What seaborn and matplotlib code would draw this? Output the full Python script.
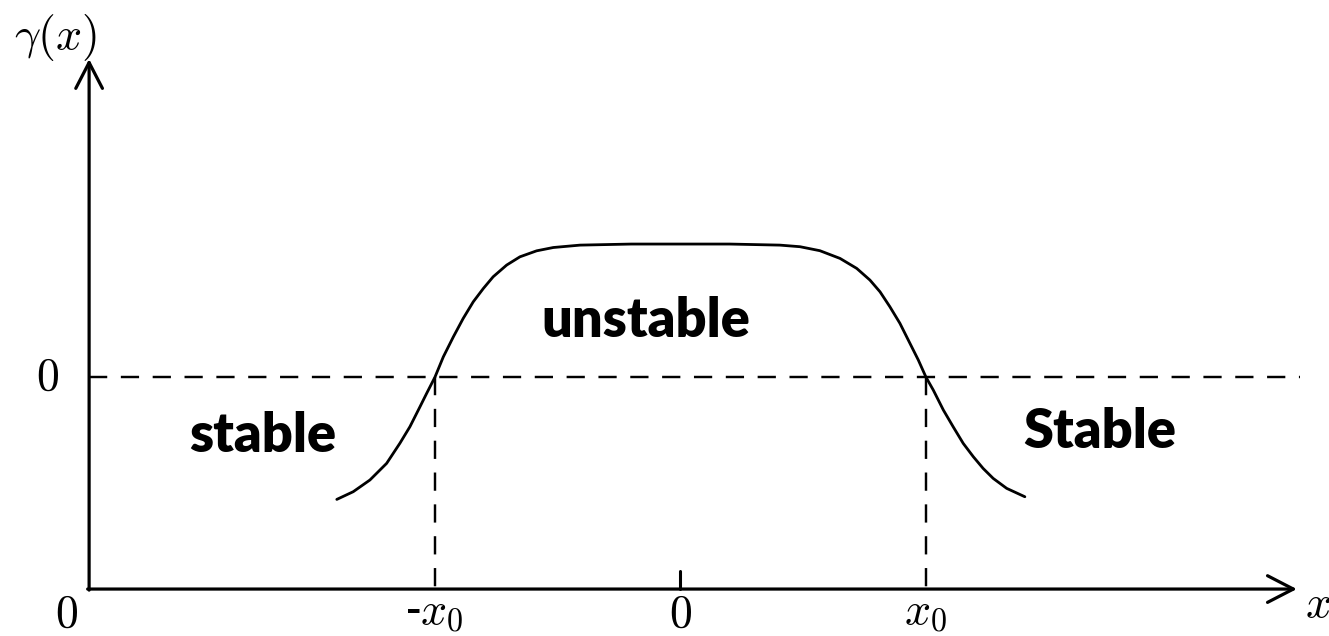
import matplotlib
matplotlib.use("Agg")
import matplotlib.pyplot as plt
import seaborn as sns
import pandas as pd

sns.set_theme(style="white")
plt.rcParams["mathtext.fontset"] = "cm"
plt.rcParams["font.family"] = ["DejaVu Sans"]
plt.rcParams["text.color"] = "black"

# Growth rate gamma(x): flat top inside (-x0, x0), negative tails outside
curve_x = [-1.400, -1.333, -1.265, -1.197, -1.143, -1.102, -1.061, -1.034, -1.000,
           -0.966, -0.925, -0.885, -0.844, -0.803, -0.763, -0.708, -0.654, -0.586,
           -0.518, -0.409, -0.200, 0.000, 0.200,
           0.405, 0.487, 0.568, 0.650, 0.718, 0.772, 0.813, 0.853, 0.894, 0.935,
           0.969, 1.000, 1.030, 1.071, 1.111, 1.152, 1.193, 1.233, 1.274, 1.329, 1.403]
curve_y = [-0.920, -0.862, -0.774, -0.649, -0.498, -0.373, -0.223, -0.123, 0.000,
           0.152, 0.303, 0.441, 0.566, 0.666, 0.754, 0.842, 0.904, 0.949,
           0.974, 0.992, 1.000, 1.000, 1.000,
           0.992, 0.980, 0.950, 0.892, 0.817, 0.729, 0.641, 0.529, 0.404, 0.253,
           0.128, 0.000, -0.098, -0.248, -0.374, -0.499, -0.599, -0.687, -0.762, -0.837, -0.900]

x0 = 1.0                      # marginal points where gamma = 0
x_axis_start, x_axis_end = -2.409, 2.511
y_axis_start, y_axis_end = -1.594, 2.391
zero_line_end = 2.523

region_labels = ["stable", "unstable", "Stable"]
region_x = [-1.703, -0.140, 1.709]
region_y = [-0.444, 0.419, -0.414]

df = pd.DataFrame({"x": curve_x, "y": curve_y})

fig = plt.figure(figsize=(13.29, 6.36), dpi=100)
ax = fig.add_axes([0, 0, 1, 1])
ax.set_xlim(-2.772, 2.642)
ax.set_ylim(-1.947, 2.835)
ax.axis("off")

sns.lineplot(data=df, x="x", y="y", ax=ax, color="black", lw=2.0, sort=False,
             estimator=None)

dash = (0, (7.5, 5.6))
ax.plot([x_axis_start, zero_line_end], [0, 0], color="black", lw=1.75, ls=dash)
for xv in (-x0, x0):
    ax.plot([xv, xv], [0, y_axis_start], color="black", lw=1.75, ls=dash)

# Coordinate axes with open arrowheads
arrow = dict(arrowstyle="->,head_length=1.55,head_width=0.8", lw=2.3,
             color="black", shrinkA=0, shrinkB=0)
ax.annotate("", xy=(x_axis_end, y_axis_start), xytext=(x_axis_start - 0.006, y_axis_start),
            arrowprops=arrow)
ax.annotate("", xy=(x_axis_start, y_axis_end), xytext=(x_axis_start, y_axis_start - 0.008),
            arrowprops=arrow)

# Tick at the origin of x
ax.plot([0, 0], [y_axis_start, y_axis_start + 0.135], color="black", lw=2.2)

# Axis labels and tick labels
fs = 33
ax.text(-2.545, 2.55, r"$\gamma(x)$", fontsize=fs, ha="center", va="center")
ax.text(-2.578, 0.0, r"$0$", fontsize=fs, ha="center", va="center")
ax.text(-2.50, -1.78, r"$0$", fontsize=fs, ha="center", va="center")
ax.text(-1.005, -1.765, r"-$x_0$", fontsize=fs, ha="center", va="center",
        fontfamily="DejaVu Serif")
ax.text(0.0, -1.78, r"$0$", fontsize=fs, ha="center", va="center")
ax.text(1.0, -1.765, r"$x_0$", fontsize=fs, ha="center", va="center")
ax.text(2.596, -1.71, r"$x$", fontsize=fs, ha="center", va="center")

for lab, tx, ty in zip(region_labels, region_x, region_y):
    ax.text(tx, ty, lab, fontsize=39, fontweight="heavy", ha="center", va="center",
            color="black", fontfamily=["Lato", "DejaVu Sans"])

fig.savefig("out.png", dpi=100, facecolor="white")
